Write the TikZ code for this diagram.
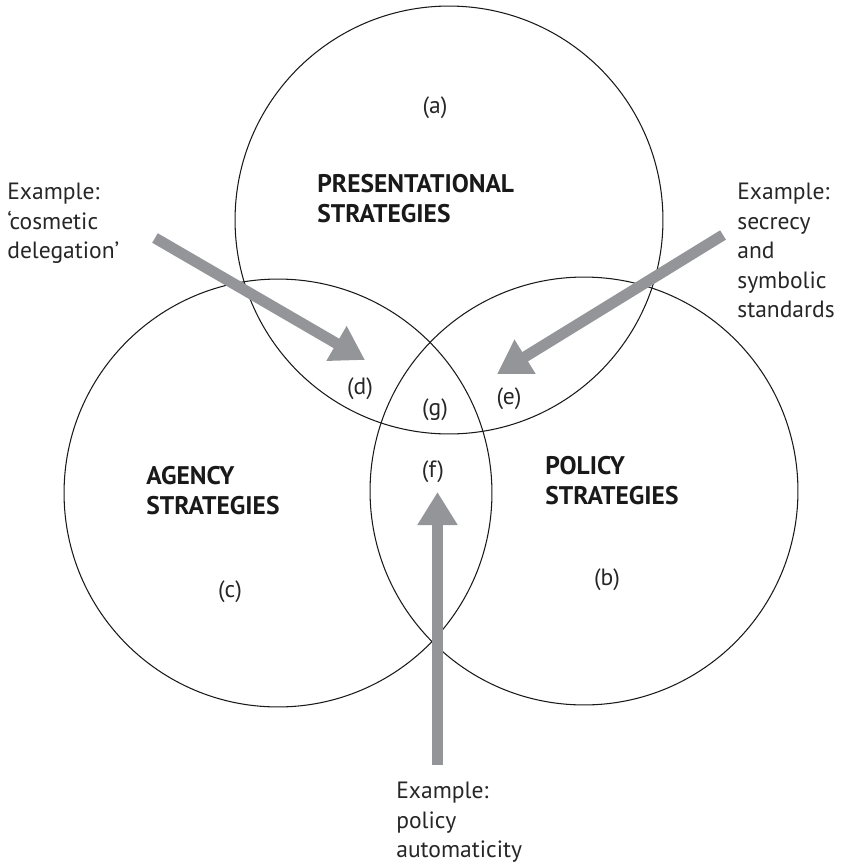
\documentclass[tikz,border=0pt]{standalone}
\usepackage{fontspec}
\setmainfont{PT Sans}
\usepackage{tikz}
\usetikzlibrary{arrows.meta}
\definecolor{arrowgrey}{RGB}{147,149,152}
\tikzstyle{ring}=[draw=black!90,line width=0.6pt]
\tikzstyle{strategy}=[font=\fontsize{14.5}{16.8}\selectfont\bfseries,align=left,anchor=north west,inner sep=0pt,text=black!90]
\tikzstyle{example}=[font=\fontsize{13.4}{16.8}\selectfont,align=left,anchor=north west,inner sep=0pt,text=black!85]
\tikzstyle{region}=[font=\fontsize{13.4}{16.8}\selectfont,inner sep=0pt,text=black!85]
\tikzstyle{pointer}=[-{Triangle[length=0.66cm,width=0.76cm]},arrowgrey,line width=0.22cm]

\begin{document}
\begin{tikzpicture}[x=0.02cm,y=-0.02cm]
  \useasboundingbox (0,0) rectangle (840,866);

  % the three strategy circles
  \foreach \cx/\cy in {449/220,278/493,584/491}{
    \draw[ring] (\cx,\cy) circle[radius=4.28cm];
  }

  \node[strategy] (present) at (317,174) {PRESENTATIONAL\\STRATEGIES};
  \node[strategy] (agency) at (146,466) {AGENCY\\STRATEGIES};
  \node[strategy] (policy) at (545,456) {POLICY\\STRATEGIES};

  % region letters
  \foreach \nm/\px/\py in {a/435/108,b/607/580,c/230/592,d/360/389,e/509/399,f/433/472,g/435/410}{
    \node[region] (reg\nm) at (\px,\py) {(\nm)};
  }

  \node[example] (excosmetic) at (7,183) {Example:\\‘cosmetic\\delegation’};
  \node[example] (exsecrecy) at (737,183) {Example:\\secrecy\\and\\symbolic\\standards};
  \node[example] (exauto) at (396,782) {Example:\\policy\\automaticity};

  % grey pointers
  \coordinate (cosmetictail) at (155,238);
  \coordinate (cosmetictip) at (365,360);
  \coordinate (secrecytail) at (723,235);
  \coordinate (secrecytip) at (497,374);
  \coordinate (autotail) at (437.5,765);
  \coordinate (autotip) at (437.5,492);
  \draw[pointer] (cosmetictail) -- (cosmetictip);
  \draw[pointer] (secrecytail) -- (secrecytip);
  \draw[pointer] (autotail) -- (autotip);

\end{tikzpicture}
\end{document}
